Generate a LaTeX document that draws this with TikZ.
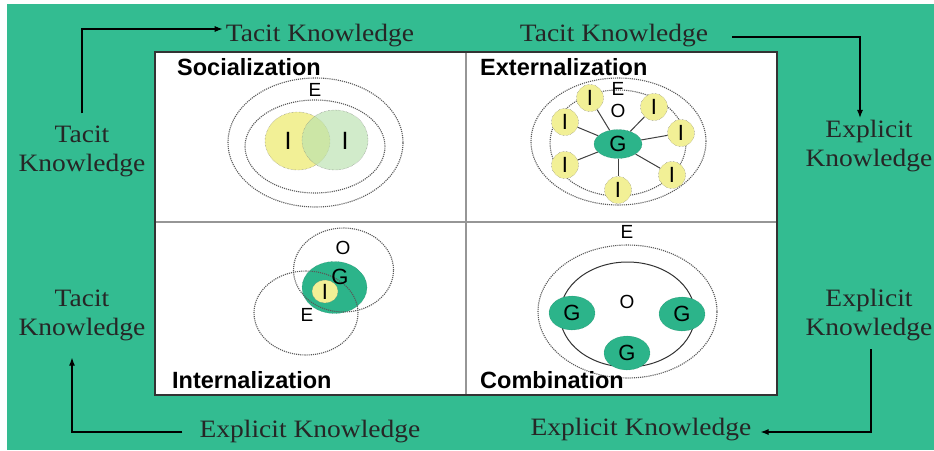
\documentclass[tikz,border=0pt]{standalone}
\usepackage{fontspec}
\setmainfont{Liberation Serif}[FakeStretch=1.1]
\setsansfont{Liberation Sans}
\usepackage{tikz}
\usetikzlibrary{shapes.geometric,arrows.meta}
\definecolor{bggreen}{RGB}{51,188,145}
\definecolor{tealG}{RGB}{44,180,138}
\definecolor{paleyellow}{RGB}{242,240,150}
\definecolor{palegreen}{RGB}{185,225,175}
\definecolor{gridline}{RGB}{150,150,150}

\begin{document}
\begin{tikzpicture}[x=1pt,y=-1pt]
\tikzset{know/.style={font=\fontsize{25}{29}\selectfont,align=center,text=black!85,inner sep=0pt}}
\tikzset{quad/.style={font=\sffamily\bfseries\fontsize{23.5}{25}\selectfont,anchor=west,inner sep=0pt}}
\tikzset{ring/.style={ellipse,draw=black!65,densely dotted,line width=1.1pt,inner sep=0pt}}
\tikzset{lbl/.style={font=\sffamily\fontsize{19}{20}\selectfont,inner sep=0pt}}
\tikzset{indiv/.style={ellipse,draw=black!55,densely dotted,fill=paleyellow,inner sep=0pt,minimum width=27pt,minimum height=27pt,font=\sffamily\fontsize{22}{22}\selectfont}}
\tikzset{grp/.style={ellipse,fill=tealG,draw=tealG!70!black,densely dotted,inner sep=0pt,font=\sffamily\fontsize{22}{22}\selectfont}}
\tikzset{flow/.style={-{Latex[length=8pt,width=6pt]},line width=1.1pt}}
\tikzset{spoke/.style={draw=black!75,line width=1pt}}

% background and frame
\fill[white] (0,0) rectangle (934,450);
\fill[bggreen] (7,4) rectangle (934,450);
\fill[white] (155,52) rectangle (777,395);
\draw[gridline,line width=1.5pt] (466,52) -- (466,395) (155,222) -- (777,222);
\draw[black!80,line width=1.2pt] (155,52) rectangle (777,395);

% socialization
\node[ring,minimum width=175pt,minimum height=129pt] (socE) at (315.5,142.5) {};
\node[ring,minimum width=140pt,minimum height=93pt] (socO) at (315,146.5) {};
\node[ellipse,draw=black!55,densely dotted,fill=paleyellow,minimum width=65pt,minimum height=58pt] (socI1) at (297.5,141) {};
\node[ellipse,draw=black!55,densely dotted,fill=palegreen,fill opacity=0.65,minimum width=66pt,minimum height=60pt] (socI2) at (335,140) {};
\node[lbl,font=\sffamily\fontsize{25}{25}\selectfont] (socI1l) at (288,141) {I};
\node[lbl,font=\sffamily\fontsize{25}{25}\selectfont] (socI2l) at (345,141) {I};
\node[lbl] (socEl) at (315,90) {E};

% externalization
\node[ring,minimum width=175pt,minimum height=127pt] (extE) at (618.5,141.5) {};
\node[ring,minimum width=136pt,minimum height=106pt] (extO) at (618,143) {};
\node[grp,minimum width=48pt,minimum height=29pt] (extG) at (618,144) {G};
\node[indiv] (extI1) at (590,98) {I};
\node[indiv] (extI2) at (565,122) {I};
\node[indiv] (extI3) at (565,165) {I};
\node[indiv] (extI4) at (618,190) {I};
\node[indiv] (extI5) at (672,175) {I};
\node[indiv] (extI6) at (681,133) {I};
\node[indiv] (extI7) at (654,107) {I};
\draw[spoke] (extG) -- (extI1);
\draw[spoke] (extG) -- (extI2);
\draw[spoke] (extG) -- (extI3);
\draw[spoke] (extG) -- (extI4);
\draw[spoke] (extG) -- (extI5);
\draw[spoke] (extG) -- (extI6);
\draw[spoke] (extG) -- (extI7);
\node[lbl] (extEl) at (618,89) {E};
\node[lbl] (extOl) at (618,111) {O};

% internalization
\node[grp,minimum width=65pt,minimum height=52pt] (intG) at (334.5,287.5) {};
\node[ring,minimum width=100pt,minimum height=84pt] (intO) at (343.5,270) {};
\node[ring,minimum width=104pt,minimum height=84pt] (intE) at (306,313) {};
\node[indiv,minimum width=26pt,minimum height=23pt] (intI) at (325,291.5) {I};
\node[lbl] (intOl) at (343,248) {O};
\node[lbl,font=\sffamily\fontsize{22}{22}\selectfont] (intGl) at (340,277) {G};
\node[lbl] (intEl) at (307,315) {E};

% combination
\node[lbl] (comEl) at (627,232) {E};
\node[ring,minimum width=179pt,minimum height=133pt] (comE) at (627.5,311.5) {};
\node[ellipse,draw=black!80,line width=1pt,minimum width=135pt,minimum height=105pt] (comO) at (627.5,314.5) {};
\node[grp,minimum width=46pt,minimum height=34pt] (comG1) at (572,313) {G};
\node[grp,minimum width=46pt,minimum height=34pt] (comG2) at (682,314) {G};
\node[grp,minimum width=46pt,minimum height=34pt] (comG3) at (627,353) {G};
\node[lbl] (comOl) at (627,302) {O};

% quadrant titles
\node[quad] (soc) at (177,67) {Socialization};
\node[quad] (ext) at (480,67) {Externalization};
\node[quad] (int) at (172,380) {Internalization};
\node[quad] (com) at (480,380) {Combination};

% knowledge cycle
\node[know] (tacitTop) at (320,36) {Tacit Knowledge};
\node[know] (tacitTopR) at (614,36) {Tacit Knowledge};
\node[know] (tacitL1) at (82,151) {Tacit\\Knowledge};
\node[know] (explR1) at (869,146) {Explicit\\Knowledge};
\node[know] (explR2) at (869,315) {Explicit\\Knowledge};
\node[know] (tacitL2) at (82,315) {Tacit\\Knowledge};
\node[know] (explBL) at (310,432) {Explicit Knowledge};
\node[know] (explBR) at (641,430) {Explicit Knowledge};

\draw[flow] ([yshift=12pt]tacitL1.north) |- ([xshift=-3pt,yshift=7pt]tacitTop.west);
\draw[flow] ([xshift=24pt,yshift=-1pt]tacitTopR.east) -| ([xshift=-9pt,yshift=2pt]explR1.north);
\draw[flow] ([xshift=2pt,yshift=-8pt]explR2.south) |- ([xshift=9pt,yshift=-2pt]explBR.east);
\draw[flow] ([xshift=-17pt]explBL.west) -| ([xshift=-10pt,yshift=-17pt]tacitL2.south);
\end{tikzpicture}
\end{document}
